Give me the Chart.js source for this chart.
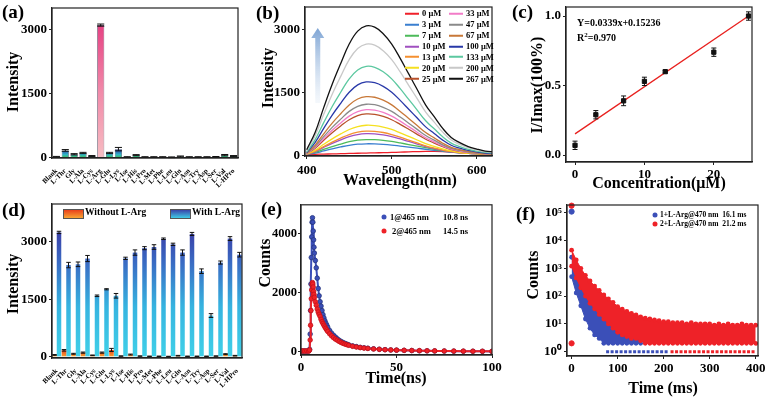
<!DOCTYPE html>
<html>
<head>
<meta charset="utf-8">
<script src="https://cdn.jsdelivr.net/npm/chart.js@4.4.1/dist/chart.umd.min.js"></script>
<style>
	html, body { margin: 0; padding: 0; background: #fff; }
	#figure { position: relative; width: 768px; height: 398px; overflow: hidden; font-family: 'Liberation Serif', 'Times New Roman', serif; font-weight: bold; color: #000; }
	#figure canvas { position: absolute; }
	.txt { position: absolute; white-space: nowrap; line-height: 1; }
	.panel { font-size: 19px; }
	.xt { font-size: 16px; transform: translate(-50%, -50%); }
	.yt { font-size: 16px; transform: translate(-50%, -50%) rotate(-90deg); }
	.leg { font-size: 8.5px; transform: translateY(-50%); }
	.swatch { display: inline-block; width: 14px; height: 2px; vertical-align: middle; margin-right: 3px; margin-top: -1px; }
	.box { position: absolute; width: 19px; height: 8px; border: 0.5px solid #555; }
	.dot { position: absolute; border-radius: 50%; transform: translate(-50%, -50%); }
</style>
</head>
<body>
<div id="figure">
	<canvas id="chartA" width="256" height="200" style="left:0;top:0"></canvas>
	<canvas id="chartB" width="256" height="200" style="left:256px;top:0"></canvas>
	<canvas id="chartC" width="256" height="200" style="left:512px;top:0"></canvas>
	<canvas id="chartD" width="256" height="198" style="left:0;top:200px"></canvas>
	<canvas id="chartE" width="256" height="198" style="left:256px;top:200px"></canvas>
	<canvas id="chartF" width="256" height="198" style="left:512px;top:200px"></canvas>

	<div class="txt panel" style="left:2px;top:2px">(a)</div>
	<div class="txt panel" style="left:256px;top:3px">(b)</div>
	<div class="txt panel" style="left:512px;top:2px">(c)</div>
	<div class="txt panel" style="left:2px;top:200px">(d)</div>
	<div class="txt panel" style="left:261px;top:199px">(e)</div>
	<div class="txt panel" style="left:516px;top:204px">(f)</div>

	<div class="txt yt" style="left:13px;top:82px">Intensity</div>
	<div class="txt yt" style="left:268px;top:78px">Intensity</div>
	<div class="txt xt" style="left:400px;top:180px">Wavelength(nm)</div>
	<div class="txt yt" style="left:537px;top:85px">I/Imax(100%)</div>
	<div class="txt xt" style="left:659px;top:183px">Concentration(μM)</div>
	<div class="txt yt" style="left:13px;top:284px">Intensity</div>
	<div class="txt yt" style="left:265px;top:263px">Counts</div>
	<div class="txt xt" style="left:396px;top:378px">Time(ns)</div>
	<div class="txt yt" style="left:533px;top:275px">Counts</div>
	<div class="txt xt" style="left:663px;top:388px">Time (ms)</div>

	<div class="txt" style="left:577px;top:18px;font-size:10px">Y=0.0339x+0.15236</div>
	<div class="txt" style="left:577px;top:32px;font-size:10px">R<sup style="font-size:7px">2</sup>=0.970</div>

	<div class="box" style="left:63px;top:209px;background:linear-gradient(#e8401c,#f8a433)"></div>
	<div class="txt leg" style="left:85px;top:213px;font-size:9.5px">Without L-Arg</div>
	<div class="box" style="left:170px;top:209px;background:linear-gradient(#3a44aa,#3fcbe6)"></div>
	<div class="txt leg" style="left:192px;top:213px;font-size:9.5px">With L-Arg</div>

	<div class="dot" style="left:384px;top:217px;width:5px;height:5px;background:#3b4fb8"></div>
	<div class="txt leg" style="left:390px;top:217px">1@465 nm</div>
	<div class="txt leg" style="left:443px;top:217px">10.8 ns</div>
	<div class="dot" style="left:384px;top:231px;width:5px;height:5px;background:#ee2228"></div>
	<div class="txt leg" style="left:392px;top:231px">2@465 nm</div>
	<div class="txt leg" style="left:443px;top:231px">14.5 ns</div>

	<div class="dot" style="left:655px;top:215px;width:5px;height:5px;background:#3b4fb8"></div>
	<div class="txt leg" style="left:660px;top:215px;font-size:7.5px">1+L-Arg@470 nm&nbsp;&nbsp;16.1 ms</div>
	<div class="dot" style="left:655px;top:224px;width:5px;height:5px;background:#ee2228"></div>
	<div class="txt leg" style="left:660px;top:224px;font-size:7.5px">2+L-Arg@470 nm&nbsp;&nbsp;21.2 ms</div>

	<div id="legendB"></div>
</div>
<script>
// Panel (a): selectivity
const aminoA = ['Blank', 'L-Thr', 'Gly', 'L-Ala', 'L-Cys', 'L-Arg', 'L-Glu', 'L-Lys', 'L-Ise', 'L-His', 'L-Pro', 'L-Met', 'L-Phe', 'L-Leu', 'L-Gln', 'L-Asn', 'L-Try', 'L-Asp', 'L-Ser', 'L-Val', 'L-HPro'];
const intensityA = [20, 170, 80, 110, 40, 3100, 110, 200, 15, 60, 15, 15, 15, 10, 30, 15, 15, 15, 20, 60, 40];
const errorA = [10, 20, 15, 15, 10, 25, 15, 40, 8, 12, 8, 8, 8, 8, 10, 8, 8, 8, 8, 15, 10];
const intensityTicks = [0, 1500, 3000];

// Panel (b): titration spectra
const wavelengthB = [400, 410, 420, 430, 440, 450, 460, 470, 480, 490, 500, 510, 520, 530, 540, 550, 560, 570, 580, 590, 600, 610, 620];
const wavelengthTicks = [400, 500, 600];
const concentrationB = ['0', '3', '7', '10', '13', '20', '25', '33', '47', '67', '100', '133', '200', '267'];
const spectrum0 = [25, 30, 35, 40, 45, 50, 55, 60, 65, 70, 75, 82, 88, 95, 100, 100, 95, 85, 75, 65, 55, 48, 42];
const spectrum3 = [30, 60, 110, 160, 205, 245, 270, 280, 278, 268, 250, 225, 200, 175, 150, 125, 100, 80, 62, 50, 42, 36, 32];
const spectrum7 = [35, 75, 145, 215, 275, 330, 365, 380, 378, 362, 335, 300, 262, 225, 188, 150, 118, 90, 70, 55, 45, 38, 34];
const spectrum10 = [30, 95, 195, 290, 375, 450, 500, 520, 515, 490, 450, 395, 335, 275, 215, 165, 122, 88, 65, 50, 40, 34, 30];
const spectrum13 = [32, 105, 215, 320, 415, 500, 555, 580, 575, 548, 500, 438, 368, 300, 232, 178, 130, 92, 66, 50, 40, 34, 30];
const spectrum20 = [38, 130, 268, 398, 515, 620, 690, 720, 712, 678, 620, 540, 455, 370, 285, 218, 158, 110, 78, 58, 45, 38, 33];
const spectrum25 = [45, 175, 365, 545, 705, 852, 950, 990, 980, 930, 852, 742, 625, 505, 388, 298, 210, 142, 100, 72, 54, 42, 36];
const spectrum33 = [48, 195, 400, 600, 775, 938, 1045, 1090, 1080, 1025, 938, 818, 688, 556, 425, 327, 229, 153, 109, 78, 56, 44, 37];
const spectrum47 = [52, 218, 450, 670, 866, 1050, 1170, 1220, 1208, 1147, 1050, 915, 769, 622, 476, 366, 256, 171, 122, 85, 61, 46, 38];
const spectrum67 = [58, 250, 518, 770, 994, 1204, 1344, 1400, 1386, 1316, 1204, 1050, 882, 714, 546, 420, 294, 196, 140, 98, 70, 50, 40];
const spectrum100 = [70, 315, 648, 962, 1242, 1505, 1680, 1750, 1732, 1645, 1505, 1312, 1102, 892, 682, 525, 367, 245, 175, 122, 87, 60, 48];
const spectrum133 = [85, 380, 784, 1166, 1505, 1823, 2035, 2120, 2098, 1993, 1823, 1590, 1336, 1081, 827, 636, 445, 297, 212, 148, 105, 74, 60];
const spectrum200 = [110, 477, 980, 1458, 1882, 2280, 2544, 2650, 2624, 2490, 2280, 1988, 1670, 1352, 1034, 795, 557, 371, 265, 186, 133, 93, 75];
const spectrum267 = [140, 555, 1140, 1694, 2187, 2650, 2957, 3080, 3050, 2895, 2650, 2310, 1940, 1570, 1200, 924, 646, 431, 308, 215, 155, 108, 90];

// Panel (c): linear fit
const concentrationC = [0, 3, 7, 10, 13, 20, 25];
const ratioC = [0.07, 0.29, 0.39, 0.53, 0.60, 0.74, 1.0];
const ratioErrorC = [0.03, 0.03, 0.035, 0.03, 0.01, 0.03, 0.03];
const fitSlope = 0.0339;
const fitIntercept = 0.15236;
const concentrationTicks = [0, 10, 20];
const ratioTicks = [0, 0.5, 1];

// Panel (d): competition
const aminoD = ['Blank', 'L-Thr', 'Gly', 'L-Ala', 'L-Cys', 'L-Glu', 'L-Lys', 'L-Ise', 'L-His', 'L-Pro', 'L-Met', 'L-Phe', 'L-Leu', 'L-Gln', 'L-Asn', 'L-Try', 'L-Asp', 'L-Ser', 'L-Val', 'L-HPro'];
const withoutArgD = [50, 170, 80, 110, 40, 110, 180, 20, 60, 20, 15, 15, 10, 30, 15, 15, 15, 20, 70, 30];
const withoutArgErrD = [10, 20, 12, 15, 8, 15, 40, 5, 12, 5, 5, 5, 5, 8, 5, 5, 5, 5, 12, 8];
const withArgD = [3240, 2390, 2410, 2560, 1590, 1760, 1590, 2565, 2715, 2830, 2860, 3075, 2930, 2715, 3200, 2230, 1075, 2455, 3080, 2660];
const withArgErrD = [30, 70, 60, 80, 20, 15, 60, 30, 70, 40, 60, 20, 30, 70, 40, 60, 50, 40, 50, 60];

// Panel (e): lifetime decays, ns
const timeE = [0, 1, 2, 3, 4, 4.5, 4.8, 5.0, 5.2, 5.4, 5.6, 5.8, 6.0, 6.2, 6.4, 6.6, 6.8, 7.0, 7.5, 8.0, 8.5, 9.0, 9.5, 10, 10.5, 11, 11.5, 12, 12.5, 13, 13.5, 14, 15, 16, 17, 18, 19, 20, 21, 22, 23, 24, 25, 27, 29, 31, 33, 35, 38, 41, 44, 47, 50, 54, 58, 62, 66, 70, 75, 80, 85, 90, 95, 100];
const countsE1 = [30, 20, 30, 20, 30, 80, 600, 1400, 2300, 3200, 3900, 4400, 4550, 4400, 4100, 3800, 3550, 3350, 3100, 2850, 2500, 2150, 1900, 1700, 1550, 1400, 1260, 1150, 1050, 970, 900, 830, 720, 630, 560, 500, 440, 390, 350, 315, 285, 260, 235, 200, 175, 150, 135, 120, 100, 85, 72, 62, 55, 48, 42, 36, 32, 28, 24, 20, 18, 16, 14, 12];
const countsE2 = [20, 30, 20, 30, 20, 60, 400, 900, 1400, 1800, 2100, 2280, 2350, 2300, 2200, 2050, 1950, 1850, 1700, 1580, 1450, 1350, 1270, 1200, 1100, 1020, 960, 900, 840, 790, 740, 690, 610, 540, 480, 430, 390, 350, 315, 285, 260, 240, 220, 185, 160, 140, 125, 112, 95, 82, 70, 62, 55, 48, 42, 37, 33, 30, 26, 22, 20, 18, 16, 14];
const timeTicksE = [0, 50, 100];
const countTicksE = [0, 2000, 4000];

// Panel (f): long-lived decays, ms (band edges of the scattered counts)
const timeRedF = [0, 10, 20, 30, 40, 50, 60, 70, 80, 90, 100, 110, 120, 130, 140, 150, 160, 170, 180, 190, 200, 210, 220, 230, 240, 250, 260, 270, 280, 290, 300, 310, 320, 330, 340, 350, 360, 370, 380, 390, 400];
const redUpperF = [4500, 2000, 1000, 560, 350, 230, 160, 110, 80, 60, 42, 34, 28, 24, 21, 18, 16, 15, 14, 13, 12, 12, 11, 11, 11, 10, 11, 10, 10, 10, 10, 9, 10, 9, 10, 9, 9, 10, 9, 9, 9];
const redLowerF = [1200, 450, 200, 100, 55, 35, 22, 15, 10, 7, 5, 4, 3.5, 3, 3, 2.5, 2, 2, 2, 2, 2, 2, 2, 2, 2, 2, 2, 2, 2, 2, 2, 2, 2, 2, 2, 2, 2, 2, 2, 2, 2];
const timeBlueF = [0, 10, 20, 30, 40, 50, 60, 70, 80, 90, 100, 110, 120, 130, 140, 150];
const blueUpperF = [2500, 750, 280, 130, 70, 40, 25, 16, 11, 8, 6, 5, 5, 4, 4, 3];
const blueLowerF = [500, 130, 45, 15, 7, 4, 3, 2, 2, 2, 2, 2, 2, 2, 2, 2];
const blueFloorF = [75, 210];
const redFloorF = [215, 400];
const blueOutlierF = [110000];
const redOutlierF = [180000, 2];
const timeTicksF = [0, 100, 200, 300, 400];
const countTicksF = [1, 10, 100, 1000, 10000, 100000];

(() => {
	'use strict'

	Chart.defaults.font.family = "'Liberation Serif', 'Times New Roman', serif";
	Chart.defaults.font.weight = 'bold';
	Chart.defaults.font.size = 13;
	Chart.defaults.color = '#000';

	const axisColor = '#222';
	const blue = '#3b4fb8';
	const red = '#ee2228';

	// Box round every plot area
	const frame = {
		id: 'frame',
		afterDraw(chart) {
			const { ctx, chartArea: a } = chart;
			ctx.save();
			ctx.strokeStyle = axisColor;
			ctx.lineWidth = 1.2;
			ctx.strokeRect(a.left, a.top, a.right - a.left, a.bottom - a.top);
			ctx.restore();
		}
	};

	// Error bars from dataset.errors
	const errorBars = {
		id: 'errorBars',
		afterDatasetsDraw(chart) {
			const ctx = chart.ctx;
			chart.data.datasets.forEach((ds, i) => {
				if (!ds.errors) return;
				const meta = chart.getDatasetMeta(i);
				const yScale = chart.scales[meta.yAxisID];
				ctx.save();
				ctx.strokeStyle = '#111';
				ctx.lineWidth = 1;
				meta.data.forEach((el, j) => {
					const raw = ds.data[j];
					const v = typeof raw === 'object' ? raw.y : raw;
					const hi = yScale.getPixelForValue(v + ds.errors[j]);
					const lo = yScale.getPixelForValue(v - ds.errors[j]);
					const half = el.width ? el.width / 2 : 2.5;
					ctx.beginPath();
					ctx.moveTo(el.x, hi); ctx.lineTo(el.x, lo);
					ctx.moveTo(el.x - half, hi); ctx.lineTo(el.x + half, hi);
					ctx.moveTo(el.x - half, lo); ctx.lineTo(el.x + half, lo);
					ctx.stroke();
				});
				ctx.restore();
			});
		}
	};

	Chart.register(frame, errorBars);

	// Fixes the plot area of a panel: [left, top, right, bottom] inside its canvas
	function panelOptions(w, h, area, xScale, yScale) {
		const [l, t, r, b] = area;
		xScale.afterFit = s => { s.height = h - b; s.paddingLeft = 0; s.paddingRight = 0; };
		yScale.afterFit = s => { s.width = l; s.paddingTop = 0; s.paddingBottom = 0; };
		return {
			responsive: false,
			animation: false,
			devicePixelRatio: 1,
			layout: { padding: { left: 0, top: t, right: w - r, bottom: 0 } },
			plugins: { legend: { display: false }, tooltip: { enabled: false } },
			scales: { x: xScale, y: yScale }
		};
	}

	function fixedTicks(values) {
		return s => { s.ticks = values.map(v => ({ value: v })); };
	}

	function valueAxis(min, max, ticks, tickOpts, extra) {
		return Object.assign({
			type: 'linear',
			min: min,
			max: max,
			afterBuildTicks: fixedTicks(ticks),
			grid: { drawOnChartArea: false, tickLength: 3, color: axisColor },
			border: { color: axisColor, width: 1.2 },
			ticks: Object.assign({ padding: 2, font: { size: 13 }, callback: v => String(v) }, tickOpts || {})
		}, extra || {});
	}

	function categoryAxis(labels) {
		return {
			type: 'category',
			labels: labels,
			grid: { display: false },
			border: { color: axisColor, width: 1.2 },
			ticks: { font: { size: 7 }, minRotation: 45, maxRotation: 45, autoSkip: false, padding: 1 }
		};
	}

	function verticalGradient(chart, stops, fromValue, toValue) {
		const y = chart.scales.y;
		const g = chart.ctx.createLinearGradient(0, y.getPixelForValue(fromValue), 0, y.getPixelForValue(toValue));
		stops.forEach(([p, c]) => g.addColorStop(p, c));
		return g;
	}


	/******************** Chart (a) Start ********************/
	const canvasA = document.getElementById('chartA');
	if (canvasA) {
		const fillA = c => {
			const chart = c.chart;
			if (!chart.chartArea || !chart.scales.y) return '#39a6c9';
			if (aminoA[c.dataIndex] === 'L-Arg') {
				return verticalGradient(chart, [[0, '#f7bcc2'], [0.5, '#f18aa9'], [1, '#e64283']], 0, 3100);
			}
			return verticalGradient(chart, [[0, '#3fbf55'], [0.4, '#2fb7c8'], [1, '#2f44a6']], 0, 180);
		};

		const configA = {
			type: 'bar',
			data: {
				labels: aminoA,
				datasets: [{
					data: intensityA,
					errors: errorA,
					backgroundColor: fillA,
					borderColor: '#1d2a44',
					borderWidth: 0.6,
					barPercentage: 0.8,
					categoryPercentage: 1
				}]
			},
			options: panelOptions(256, 200, [52, 8, 238, 158], categoryAxis(aminoA), valueAxis(-7, 3500, intensityTicks))
		};

		new Chart(canvasA, configA);
	}
	/********************* Chart (a) End *********************/


	/******************** Chart (b) Start ********************/
	const canvasB = document.getElementById('chartB');
	if (canvasB) {
		const spectraB = [spectrum0, spectrum3, spectrum7, spectrum10, spectrum13, spectrum20, spectrum25, spectrum33, spectrum47, spectrum67, spectrum100, spectrum133, spectrum200, spectrum267];
		const colorsB = ['#f0202a', '#3a7fd0', '#4cba5a', '#a050c0', '#f59030', '#f5e020', '#b8502a', '#f27cc8', '#8a8a8a', '#c87838', '#2838a8', '#5cc8a0', '#c8c8c8', '#111111'];

		// Rising-intensity arrow, in data units
		const arrowB = {
			id: 'arrowB',
			afterDatasetsDraw(chart) {
				const { ctx, scales: { x, y } } = chart;
				const ax = x.getPixelForValue(413);
				const top = y.getPixelForValue(3030);
				const bottom = y.getPixelForValue(1250);
				const g = ctx.createLinearGradient(0, bottom, 0, top);
				g.addColorStop(0, 'rgba(200,218,238,0.2)');
				g.addColorStop(1, 'rgba(120,160,210,0.95)');
				ctx.save();
				ctx.fillStyle = g;
				ctx.beginPath();
				ctx.moveTo(ax - 2.5, bottom);
				ctx.lineTo(ax - 2.5, top + 10);
				ctx.lineTo(ax - 6.5, top + 10);
				ctx.lineTo(ax, top);
				ctx.lineTo(ax + 6.5, top + 10);
				ctx.lineTo(ax + 2.5, top + 10);
				ctx.lineTo(ax + 2.5, bottom);
				ctx.closePath();
				ctx.fill();
				ctx.restore();
			}
		};

		const configB = {
			type: 'line',
			data: {
				datasets: spectraB.map((s, i) => ({
					label: concentrationB[i] + ' μM',
					data: s.map((v, k) => ({ x: wavelengthB[k], y: v })),
					borderColor: colorsB[i],
					borderWidth: 1.3,
					pointRadius: 0,
					tension: 0.4
				})).reverse()
			},
			options: panelOptions(256, 200, [49, 7, 236, 156],
				valueAxis(398, 618, wavelengthTicks, { padding: 4 }),
				valueAxis(-10, 3530, intensityTicks)),
			plugins: [arrowB]
		};

		new Chart(canvasB, configB);

		// Two-column legend built from the same labels and colours
		const legendB = document.getElementById('legendB');
		concentrationB.forEach((c, i) => {
			const col = Math.floor(i / 7);
			const row = i % 7;
			const item = document.createElement('div');
			item.className = 'txt leg';
			item.style.left = (405 + col * 44) + 'px';
			item.style.top = (13.3 + row * 10.9) + 'px';
			item.innerHTML = '<span class="swatch" style="background:' + colorsB[i] + '"></span>' + c + ' μM';
			legendB.appendChild(item);
		});
	}
	/********************* Chart (b) End *********************/


	/******************** Chart (c) Start ********************/
	const canvasC = document.getElementById('chartC');
	if (canvasC) {
		const fitEnds = [concentrationC[0], concentrationC[concentrationC.length - 1]];

		const configC = {
			type: 'line',
			data: {
				datasets: [{
					data: concentrationC.map((c, i) => ({ x: c, y: ratioC[i] })),
					errors: ratioErrorC,
					showLine: false,
					pointStyle: 'rect',
					pointRadius: 3,
					backgroundColor: '#111',
					borderColor: '#111'
				}, {
					data: fitEnds.map(c => ({ x: c, y: fitSlope * c + fitIntercept })),
					borderColor: '#e8201e',
					borderWidth: 1.3,
					pointRadius: 0
				}]
			},
			options: panelOptions(256, 200, [54, 7, 240, 162],
				valueAxis(-1.3, 25.5, concentrationTicks),
				valueAxis(-0.05, 1.065, ratioTicks, { callback: v => v.toFixed(1) }))
		};

		new Chart(canvasC, configC);
	}
	/********************* Chart (c) End *********************/


	/******************** Chart (d) Start ********************/
	const canvasD = document.getElementById('chartD');
	if (canvasD) {
		const configD = {
			type: 'bar',
			data: {
				labels: aminoD,
				datasets: [{
					label: 'Without L-Arg',
					data: withoutArgD,
					errors: withoutArgErrD,
					backgroundColor: c => c.chart.chartArea ? verticalGradient(c.chart, [[0, '#f8a433'], [1, '#e8401c']], 0, 180) : '#f07028',
					barPercentage: 1,
					categoryPercentage: 0.95
				}, {
					label: 'With L-Arg',
					data: withArgD,
					errors: withArgErrD,
					backgroundColor: c => c.chart.chartArea ? verticalGradient(c.chart, [[0, '#40d0e8'], [0.4, '#36b4e0'], [0.75, '#3a6cc4'], [1, '#3a40a8']], 0, 3250) : '#3a8ad0',
					barPercentage: 1,
					categoryPercentage: 0.95
				}]
			},
			options: panelOptions(256, 198, [52, 4, 242, 158], categoryAxis(aminoD), valueAxis(-30, 3980, intensityTicks))
		};

		new Chart(canvasD, configD);
	}
	/********************* Chart (d) End *********************/


	/******************** Chart (e) Start ********************/
	const canvasE = document.getElementById('chartE');
	if (canvasE) {
		const decayE = (counts, color, edge) => ({
			data: timeE.map((t, i) => ({ x: t, y: counts[i] })),
			borderColor: color,
			borderWidth: 2,
			pointRadius: 2.3,
			pointBorderWidth: 0.8,
			pointBorderColor: edge,
			pointBackgroundColor: color
		});

		const configE = {
			type: 'line',
			data: {
				datasets: [decayE(countsE2, red, '#c81018'), decayE(countsE1, blue, '#26357e')]
			},
			options: panelOptions(256, 198, [45, 2, 236, 155],
				valueAxis(0, 100, timeTicksE),
				valueAxis(-110, 4990, countTicksE, { padding: 1, font: { size: 12.5 } }))
		};

		new Chart(canvasE, configE);
	}
	/********************* Chart (e) End *********************/


	/******************** Chart (f) Start ********************/
	const canvasF = document.getElementById('chartF');
	if (canvasF) {
		const sup = ['⁰', '¹', '²', '³', '⁴', '⁵'];
		const edge = (times, counts, color, fill) => ({
			data: times.map((t, i) => ({ x: t, y: counts[i] })),
			borderColor: color,
			backgroundColor: color,
			borderWidth: 1,
			pointRadius: 2.4,
			pointBorderWidth: 0,
			pointBackgroundColor: color,
			fill: fill
		});
		const floor = (range, color) => ({
			data: range.map(t => ({ x: t, y: 1 })),
			borderColor: color,
			borderWidth: 3,
			borderDash: [3, 1.5],
			pointRadius: 0
		});
		const outliers = (counts, color) => ({
			data: counts.map(v => ({ x: 0, y: v })),
			showLine: false,
			pointRadius: 2.6,
			backgroundColor: color,
			borderColor: color,
			clip: false
		});

		const configF = {
			type: 'line',
			data: {
				datasets: [
					outliers(redOutlierF, red),
					outliers(blueOutlierF, blue),
					edge(timeRedF, redUpperF, red, '+1'),
					edge(timeRedF, redLowerF, red, false),
					floor(redFloorF, red),
					edge(timeBlueF, blueUpperF, blue, '+1'),
					edge(timeBlueF, blueLowerF, blue, false),
					floor(blueFloorF, blue)
				]
			},
			options: panelOptions(256, 198, [55, 2, 246, 156],
				valueAxis(-10, 405, timeTicksF),
				valueAxis(0.71, 190000, countTicksF,
					{ callback: v => '10' + sup[Math.round(Math.log10(v))] },
					{ type: 'logarithmic' }))
		};

		new Chart(canvasF, configF);
	}
	/********************* Chart (f) End *********************/
})()
</script>
</body>
</html>
